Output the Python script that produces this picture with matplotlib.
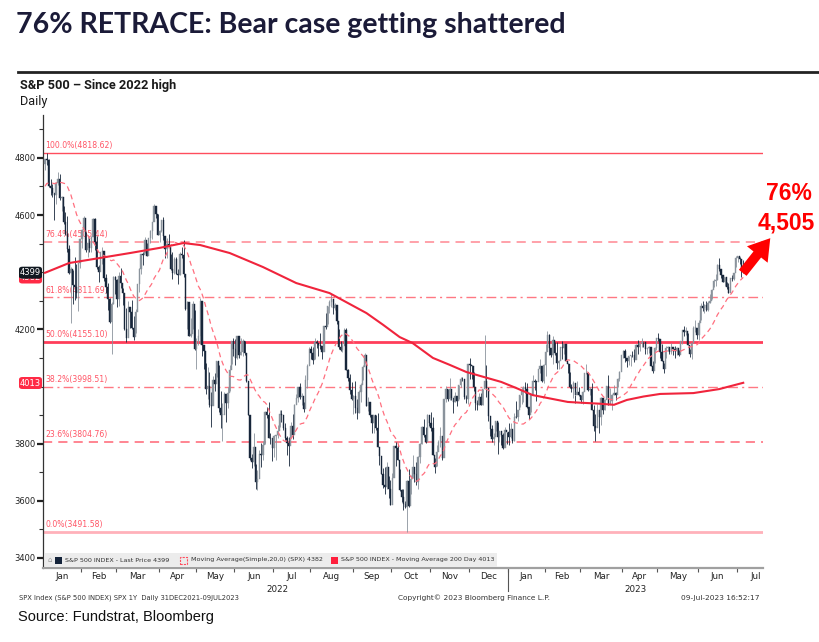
import matplotlib
matplotlib.use('Agg')
import matplotlib.pyplot as plt
import numpy as np
import pandas as pd
from matplotlib.patches import Rectangle, FancyBboxPatch, FancyArrowPatch
import matplotlib.transforms as mtransforms

# ---------------- data ----------------
holidays = ['2022-01-17', '2022-02-21', '2022-04-15', '2022-05-30', '2022-06-20', '2022-07-04',
            '2022-09-05', '2022-11-24', '2022-12-26', '2023-01-02', '2023-01-16', '2023-02-20',
            '2023-04-07', '2023-05-29', '2023-06-19', '2023-07-04']
start_date, end_date = '2022-01-03', '2023-07-07'
first_open = 4778.14

# last 19 closes of Dec 2021 (for the 20-day average)
close_dec2021 = [4591.67, 4686.75, 4701.21, 4667.45, 4712.02, 4668.97, 4634.09, 4709.85, 4668.67,
                 4620.64, 4568.02, 4649.23, 4696.56, 4725.79, 4791.19, 4786.35, 4793.06, 4778.73, 4766.18]

close_2022 = [
    4796.56, 4793.54, 4700.58, 4696.05, 4677.03, 4670.29, 4713.07, 4726.35, 4659.03, 4662.85, 4577.11, 4532.76, 4482.73, 4397.94, 4410.13, 4356.45, 4349.93, 4326.51, 4431.85, 4515.55,
    4546.54, 4589.38, 4477.44, 4500.53, 4483.87, 4521.54, 4587.18, 4504.08, 4418.64, 4401.67, 4471.07, 4475.01, 4380.26, 4348.87, 4304.76, 4225.50, 4288.70, 4384.65, 4373.94,
    4306.26, 4386.54, 4363.49, 4328.87, 4201.09, 4170.70, 4277.88, 4259.52, 4204.31, 4173.11, 4262.45, 4357.86, 4411.67, 4463.12, 4461.18, 4511.61, 4456.24, 4520.16, 4543.06, 4575.52, 4631.60, 4602.45, 4530.41,
    4545.86, 4582.64, 4525.12, 4481.15, 4500.21, 4488.28, 4412.53, 4397.45, 4446.59, 4392.59, 4391.69, 4462.21, 4459.45, 4393.66, 4271.78, 4296.12, 4175.20, 4183.96, 4287.50, 4131.93,
    4155.38, 4175.48, 4300.17, 4146.87, 4123.34, 3991.24, 4001.05, 3935.18, 3930.08, 4023.89, 4008.01, 4088.85, 3923.68, 3900.79, 3901.36, 3973.75, 3941.48, 3978.73, 4057.84, 4158.24, 4132.15,
    4101.23, 4176.82, 4108.54, 4121.43, 4160.68, 4115.77, 4017.82, 3900.86, 3749.63, 3735.48, 3789.99, 3666.77, 3674.84, 3764.79, 3759.89, 3795.73, 3911.74, 3900.11, 3821.55, 3818.83, 3785.38,
    3825.33, 3831.39, 3845.08, 3902.62, 3899.38, 3854.43, 3818.80, 3801.78, 3790.38, 3863.16, 3830.85, 3936.69, 3959.90, 3998.95, 3961.63, 3966.84, 3921.05, 4023.61, 4072.43, 4130.29,
    4118.63, 4091.19, 4155.17, 4151.94, 4145.19, 4140.06, 4122.47, 4210.24, 4207.27, 4280.15, 4297.14, 4305.20, 4274.04, 4283.74, 4228.48, 4137.99, 4128.73, 4140.77, 4199.12, 4057.66, 4030.61, 3986.16, 3955.00,
    3966.85, 3924.26, 3908.19, 3979.87, 4006.18, 4067.36, 4110.41, 3932.69, 3946.01, 3901.35, 3873.33, 3899.89, 3855.93, 3789.93, 3757.99, 3693.23, 3655.04, 3647.29, 3719.04, 3640.47, 3585.62,
    3678.43, 3790.93, 3783.28, 3744.52, 3639.66, 3612.39, 3588.84, 3577.03, 3669.91, 3583.07, 3677.95, 3719.98, 3695.16, 3665.78, 3752.75, 3797.34, 3859.11, 3830.60, 3807.30, 3901.06, 3871.98,
    3856.10, 3759.69, 3719.89, 3770.55, 3806.80, 3828.11, 3748.57, 3956.37, 3992.93, 3957.25, 3991.73, 3958.79, 3946.56, 3965.34, 3949.94, 4003.58, 4027.26, 4026.12, 3963.94, 3957.63, 4080.11,
    4076.57, 4071.70, 3998.84, 3941.26, 3933.92, 3963.51, 3934.38, 3990.56, 4019.65, 3995.32, 3895.75, 3852.36, 3817.66, 3821.62, 3878.44, 3822.39, 3844.82, 3829.25, 3783.22, 3849.28, 3839.50]
high_2022 = [
    4796.64, 4818.62, 4797.70, 4725.01, 4707.95, 4673, 4714, 4749, 4744, 4666, 4632, 4611, 4596, 4494, 4417, 4408, 4453, 4429, 4432, 4516,
    4550, 4595, 4542, 4531, 4521, 4525, 4590, 4588, 4527, 4426, 4472, 4489, 4448, 4395, 4363, 4308, 4295, 4386, 4385,
    4375, 4402, 4416, 4343, 4327, 4276, 4300, 4268, 4303, 4247, 4271, 4358, 4413, 4465, 4471, 4522, 4501, 4521, 4546, 4576, 4637, 4628, 4603,
    4548, 4583, 4593, 4504, 4521, 4534, 4464, 4471, 4454, 4453, 4410, 4471, 4488, 4512, 4386, 4299, 4278, 4240, 4300, 4269,
    4169, 4200, 4308, 4270, 4140, 4081, 4068, 4050, 3981, 4038, 4047, 4090, 4076, 3985, 3943, 3982, 3956, 4000, 4076, 4158, 4169,
    4167, 4177, 4143, 4168, 4165, 4160, 4117, 3975, 3839, 3764, 3837, 3728, 3708, 3779, 3802, 3809, 3914, 3928, 3945, 3837, 3818,
    3830, 3832, 3865, 3918, 3919, 3880, 3873, 3828, 3822, 3876, 3903, 3938, 3975, 4000, 4013, 3976, 3946, 4040, 4079, 4140,
    4141, 4140, 4168, 4161, 4152, 4187, 4128, 4211, 4258, 4280, 4301, 4325, 4302, 4292, 4259, 4202, 4159, 4156, 4203, 4204, 4063, 4044, 4015,
    3970, 4019, 3956, 3987, 4011, 4077, 4119, 4062, 3962, 3944, 3880, 3901, 3900, 3907, 3790, 3720, 3715, 3717, 3737, 3687, 3672,
    3698, 3791, 3807, 3798, 3710, 3643, 3640, 3601, 3672, 3713, 3689, 3762, 3719, 3737, 3757, 3803, 3862, 3887, 3859, 3905, 3893,
    3911, 3894, 3751, 3796, 3814, 3860, 3818, 3958, 4001, 3993, 4029, 3983, 3955, 3980, 3962, 4006, 4034, 4034, 4013, 3969, 4080,
    4101, 4077, 4052, 3999, 3952, 3977, 3977, 3991, 4180, 4075, 3958, 3888, 3864, 3839, 3876, 3876, 3846, 3846, 3839, 3859, 3840]
low_2022 = [
    4758.17, 4774.27, 4699.44, 4671.26, 4662.74, 4582, 4638, 4706, 4651, 4614, 4569, 4530, 4472, 4395, 4223, 4287, 4304, 4309, 4264, 4415,
    4484, 4544, 4471, 4452, 4471, 4471, 4547, 4477, 4411, 4364, 4429, 4429, 4368, 4327, 4267, 4222, 4115, 4287, 4322,
    4279, 4280, 4345, 4284, 4199, 4157, 4238, 4206, 4202, 4162, 4188, 4288, 4331, 4394, 4424, 4466, 4455, 4469, 4501, 4517, 4589, 4589, 4530,
    4507, 4539, 4514, 4450, 4450, 4488, 4408, 4375, 4392, 4392, 4358, 4391, 4448, 4384, 4268, 4201, 4175, 4173, 4200, 4129,
    4062, 4146, 4148, 4106, 4063, 3975, 3958, 3928, 3859, 3952, 3985, 4033, 3912, 3855, 3810, 3920, 3876, 3925, 3985, 4078, 4107,
    4074, 4098, 4101, 4109, 4108, 4110, 4017, 3901, 3744, 3715, 3723, 3640, 3637, 3715, 3717, 3743, 3798, 3890, 3821, 3799, 3738,
    3752, 3743, 3821, 3859, 3877, 3847, 3813, 3759, 3722, 3819, 3817, 3860, 3938, 3947, 3955, 3936, 3912, 3964, 3995, 4080,
    4097, 4079, 4095, 4135, 4108, 4131, 4098, 4164, 4201, 4220, 4256, 4278, 4254, 4267, 4218, 4131, 4124, 4121, 4145, 4057, 4018, 3973, 3954,
    3903, 3907, 3886, 3907, 3945, 4022, 4084, 3933, 3914, 3895, 3838, 3838, 3847, 3789, 3727, 3694, 3645, 3624, 3641, 3610, 3584,
    3604, 3725, 3723, 3744, 3633, 3596, 3568, 3575, 3491.58, 3580, 3623, 3679, 3666, 3656, 3641, 3733, 3799, 3824, 3804, 3809, 3863,
    3843, 3759, 3699, 3722, 3774, 3788, 3744, 3859, 3945, 3949, 3954, 3954, 3906, 3945, 3933, 3956, 3999, 4021, 3957, 3943, 3939,
    4028, 4026, 3984, 3919, 3918, 3934, 3934, 3936, 3994, 3965, 3879, 3828, 3807, 3795, 3846, 3765, 3805, 3795, 3783, 3799, 3800]

close_2023 = [
    3824.14, 3852.97, 3808.10, 3895.08, 3892.09, 3919.25, 3969.61, 3983.17, 3999.09, 3990.97, 3928.86, 3898.85, 3972.61, 4019.81, 4016.95, 4016.22, 4060.43, 4070.56, 4017.77, 4076.60,
    4119.21, 4179.76, 4136.48, 4111.08, 4164.00, 4117.86, 4081.50, 4090.46, 4137.29, 4136.13, 4147.60, 4090.41, 4079.09, 3997.34, 3991.05, 4012.32, 3970.04, 3982.24, 3970.15,
    3951.39, 3981.35, 4045.64, 4048.42, 3986.37, 3992.01, 3918.32, 3861.59, 3855.76, 3919.29, 3891.93, 3960.28, 3916.64, 3951.57, 4002.87, 3936.97, 3948.72, 3970.99, 3977.53, 3971.27, 4027.81, 4050.83, 4109.31,
    4124.51, 4100.60, 4090.38, 4105.02, 4109.11, 4108.94, 4091.95, 4146.22, 4137.64, 4151.32, 4154.87, 4154.52, 4129.79, 4133.52, 4137.04, 4071.63, 4055.99, 4135.35, 4169.48,
    4167.87, 4119.58, 4090.75, 4061.22, 4136.25, 4138.12, 4119.17, 4137.64, 4130.62, 4124.08, 4136.28, 4109.90, 4158.77, 4198.05, 4191.98, 4192.63, 4145.58, 4115.24, 4151.28, 4205.45, 4205.52, 4179.83,
    4221.02, 4282.37, 4273.79, 4283.85, 4267.52, 4293.93, 4298.86, 4338.93, 4369.01, 4372.59, 4425.84, 4409.59, 4388.71, 4365.69, 4381.89, 4348.33, 4328.82, 4378.41, 4376.86, 4396.44, 4450.38,
    4455.59, 4446.82, 4411.59, 4398.95]
high_2023 = [
    3872, 3874, 3840, 3907, 3951, 3919, 3970, 3998, 4003, 4015, 4014, 3927, 3974, 4039, 4028, 4020, 4061, 4095, 4063, 4078,
    4148, 4195, 4183, 4128, 4176, 4156, 4157, 4094, 4139, 4159, 4149, 4136, 4083, 4052, 4010, 4018, 3972, 4018, 3999,
    3972, 3984, 4048, 4079, 4050, 4000, 4011, 3934, 3905, 3938, 3915, 3964, 3958, 3956, 4003, 4039, 3996, 3973, 4004, 3980, 4031, 4053, 4110,
    4128, 4133, 4099, 4108, 4110, 4125, 4132, 4150, 4164, 4153, 4169, 4157, 4148, 4134, 4143, 4119, 4088, 4138, 4170,
    4187, 4164, 4148, 4083, 4142, 4143, 4131, 4154, 4132, 4143, 4139, 4127, 4160, 4199, 4212, 4209, 4187, 4131, 4154, 4212, 4231, 4193,
    4232, 4291, 4299, 4288, 4300, 4298, 4322, 4340, 4375, 4392, 4428, 4448, 4401, 4389, 4382, 4366, 4363, 4379, 4389, 4398, 4456,
    4456, 4452, 4422, 4443]
low_2023 = [
    3794, 3819, 3803, 3809, 3889, 3878, 3928, 3939, 3947, 3978, 3924, 3886, 3910, 3972, 3989, 3950, 4018, 4048, 4017, 4013,
    4037, 4141, 4111, 4103, 4080, 4111, 4061, 4061, 4092, 4095, 4114, 4088, 4048, 3995, 3981, 3961, 3944, 3976, 3968,
    3944, 3940, 4000, 4045, 3984, 3970, 3918, 3846, 3809, 3875, 3839, 3865, 3903, 3917, 3963, 3935, 3943, 3918, 3970, 3952, 3999, 4021, 4056,
    4101, 4087, 4069, 4077, 4072, 4102, 4087, 4100, 4114, 4125, 4139, 4139, 4114, 4113, 4117, 4071, 4049, 4082, 4128,
    4159, 4100, 4088, 4048, 4099, 4123, 4115, 4113, 4110, 4099, 4109, 4108, 4113, 4150, 4176, 4180, 4145, 4103, 4098, 4152, 4192, 4166,
    4164, 4231, 4264, 4257, 4265, 4264, 4291, 4305, 4349, 4352, 4373, 4403, 4380, 4364, 4351, 4341, 4328, 4334, 4370, 4371, 4419,
    4437, 4427, 4384, 4398]

# 200-day moving average as drawn by the terminal
ma200_dates = ['2022-01-03', '2022-01-21', '2022-02-15', '2022-03-10', '2022-04-01', '2022-04-21', '2022-05-04',
               '2022-05-26', '2022-06-23', '2022-07-20', '2022-08-15', '2022-09-13', '2022-09-26', '2022-10-07',
               '2022-10-18', '2022-11-02', '2022-11-15', '2022-11-29', '2022-12-27', '2023-01-09', '2023-01-23',
               '2023-02-17', '2023-03-02', '2023-03-15', '2023-03-27', '2023-04-05', '2023-04-19', '2023-05-02',
               '2023-05-26', '2023-06-16', '2023-07-07']
ma200_vals = [4398, 4432, 4450, 4467, 4485, 4502, 4495, 4467, 4418, 4362, 4327, 4257, 4216, 4173,
              4152, 4100, 4076, 4051, 4016, 3995, 3970,
              3946, 3943, 3940, 3936, 3953, 3965, 3974,
              3977, 3991, 4013]

fib_pcts = [100.0, 76.4, 61.8, 50.0, 38.2, 23.6, 0.0]
fib_vals = [4818.62, 4505.44, 4311.69, 4155.10, 3998.51, 3804.76, 3491.58]

month_names = ['Jan', 'Feb', 'Mar', 'Apr', 'May', 'Jun', 'Jul', 'Aug', 'Sep', 'Oct', 'Nov', 'Dec']
ytick_major = [3400, 3600, 3800, 4200, 4600, 4800]
last_price, ma20_last, ma200_last = 4399, 4382, 4013

# ---------------- derived series ----------------
dates = pd.bdate_range(start_date, end_date, freq='C', holidays=holidays)
close = np.array(close_2022 + close_2023)
high = np.array(high_2022 + high_2023)
low = np.array(low_2022 + low_2023)
opn = np.concatenate([[first_open], close[:-1]])
n = len(close)
idx = np.arange(n)
date_pos = {d.strftime('%Y-%m-%d'): i for i, d in enumerate(dates)}
ma20 = pd.Series(close_dec2021 + list(close)).rolling(20).mean().values[-n:]
ma200_x = [date_pos[d] for d in ma200_dates]

# ---------------- figure ----------------
W, H = 820, 642
fig = plt.figure(figsize=(W / 100, H / 100), dpi=100)
fig.patch.set_facecolor('white')

def fx(x):
    return x / W

def fy(y):
    return 1 - y / H

ax = fig.add_axes([fx(43), fy(568), (763 - 43) / W, (568 - 115) / H])
ax.set_xlim(-1.1, 388.7)
ax.set_ylim(3365, 4950)

# fib lines
fib_styles = {
    100.0: dict(color='#ff4d5e', lw=1.0, ls='-'),
    76.4: dict(color='#ff8792', lw=1.1, ls=(0, (6, 4))),
    61.8: dict(color='#ff7883', lw=1.0, ls=(0, (7, 3, 1.5, 3))),
    50.0: dict(color='#ff3d5a', lw=2.0, ls='-'),
    38.2: dict(color='#ff7883', lw=1.0, ls=(0, (7, 3, 1.5, 3))),
    23.6: dict(color='#ff6474', lw=1.1, ls=(0, (6, 4))),
    0.0: dict(color='#ffb1ba', lw=2.0, ls='-'),
}
for p, v in zip(fib_pcts, fib_vals):
    ax.axhline(v, zorder=1, **fib_styles[p])
    ax.text(0.3, v + 10, f'{p:.1f}%({v:.2f})', color='#ff5566', fontsize=5.6,
            ha='left', va='bottom', zorder=2)

# candlesticks
up = close >= opn
col = np.where(up, '#8a939c', '#17263a')
ax.vlines(idx, low, high, colors=col, lw=0.6, zorder=3)
body_lo = np.minimum(opn, close)
body_h = np.maximum(np.abs(close - opn), 1.5)
ax.bar(idx, body_h, bottom=body_lo, width=0.7, color=col, edgecolor=col, lw=0.3, zorder=4)

# moving averages
ax.plot(idx, ma20, color='#ff6f7f', lw=0.9, ls=(0, (4, 3)), zorder=5)
ax.plot(ma200_x, ma200_vals, color='#f0243c', lw=1.5, zorder=6, solid_joinstyle='round')

# axes styling
for s in ['top', 'right']:
    ax.spines[s].set_visible(False)
ax.spines['left'].set_color('#333333')
ax.spines['left'].set_linewidth(0.9)
ax.spines['bottom'].set_color('#a0a0a0')
ax.spines['bottom'].set_linewidth(1.6)

ax.set_yticks(ytick_major)
ax.set_yticklabels([str(t) for t in ytick_major])
ax.set_yticks(np.arange(3500, 5000, 100), minor=True)
ax.tick_params(axis='y', which='major', direction='out', length=4, width=1.6, labelsize=6,
               colors='#222222', pad=1.5)
ax.tick_params(axis='y', which='minor', direction='out', length=3, width=0.8, colors='#333333')

# month boundaries and centers
mstarts, mcenters, mlabels = [], [], []
per = pd.Series(idx, index=dates).groupby([dates.year, dates.month])
for (yr, mo), g in per:
    s, e = g.values[0], g.values[-1]
    if (yr, mo) == (dates[-1].year, dates[-1].month):
        e = s + 19
    mstarts.append(s - 0.5)
    mcenters.append((s + e) / 2)
    mlabels.append(month_names[mo - 1])
ax.set_xticks(mstarts[1:])
ax.set_xticklabels([''] * len(mstarts[1:]))
ax.set_xticks(mcenters, minor=True)
ax.set_xticklabels(mlabels, minor=True)
ax.tick_params(axis='x', which='major', direction='out', length=3, width=0.8, colors='#555555')
ax.tick_params(axis='x', which='minor', length=0, labelsize=6.3, pad=3, labelcolor='#222222')

trans = mtransforms.blended_transform_factory(ax.transData, ax.transAxes)
year_split = date_pos['2023-01-03'] - 0.5
ax.text(year_split / 2 + 0.5, -0.037, '2022', transform=trans, ha='center', va='top', fontsize=6.3, color='#222222')
ax.text((year_split + 388.7) / 2, -0.037, '2023', transform=trans, ha='center', va='top', fontsize=6.3, color='#222222')
ax.plot([year_split, year_split], [0, -0.05], transform=trans, color='#555555', lw=0.8, clip_on=False)

# ---------------- annotations outside axes ----------------
fig.text(fx(16), fy(25), '76% RETRACE: Bear case getting shattered', fontsize=20.5, fontweight='bold',
         family='Lato', color='#1b1b38', ha='left', va='center')
fig.add_artist(plt.Line2D([fx(18), fx(820)], [fy(72), fy(72)], color='#222222', lw=2.0))
fig.text(fx(20), fy(85), 'S&P 500 \u2013 Since 2022 high', fontsize=9.2, fontweight='bold',
         family='Roboto', color='#1a1a1a', ha='left', va='center')
fig.text(fx(20), fy(101), 'Daily', fontsize=9.2, family='Roboto', color='#1a1a1a', ha='left', va='center')

# price badges (20-day average badge sits mostly hidden behind the last-price badge)
def badge(y, txt, fc, z):
    fig.patches.append(FancyBboxPatch((fx(19), fy(y + 6)), (42 - 19) / W, 12 / H,
                                      boxstyle='round,pad=0.0,rounding_size=0.004',
                                      transform=fig.transFigure, fc=fc, ec='none', zorder=z))
    fig.text(fx(30.5), fy(y), txt, color='white', fontsize=6, ha='center', va='center', zorder=z + 0.5)

badge(277.5, str(ma20_last), '#ff2a45', 5)
badge(272.7, str(last_price), '#101820', 7)
badge(383.0, str(ma200_last), '#ff2a45', 5)

# legend strip
fig.patches.append(Rectangle((fx(45), fy(567)), (497 - 45) / W, 14 / H, transform=fig.transFigure,
                             fc='#ececec', ec='none', zorder=2))
fig.text(fx(48), fy(560), '\u2302', fontsize=5, color='#999999', ha='left', va='center', zorder=3)
fig.patches.append(Rectangle((fx(55), fy(564)), 7 / W, 7 / H, transform=fig.transFigure,
                             fc='#14233a', ec='none', zorder=3))
fig.text(fx(65), fy(560), f'S&P 500 INDEX - Last Price {last_price}', fontsize=4.6, color='#333333',
         ha='left', va='center', zorder=3)
fig.patches.append(Rectangle((fx(180), fy(564)), 7 / W, 7 / H, transform=fig.transFigure,
                             fc='none', ec='#ff4d5e', lw=0.8, ls=(0, (2, 1)), zorder=3))
fig.text(fx(191), fy(560), f'Moving Average(Simple,20,0) (SPX) {ma20_last}', fontsize=4.6,
         color='#333333', ha='left', va='center', zorder=3)
fig.patches.append(Rectangle((fx(331), fy(564)), 7 / W, 7 / H, transform=fig.transFigure,
                             fc='#ff1f3d', ec='none', zorder=3))
fig.text(fx(341), fy(560), f'S&P 500 INDEX - Moving Average 200 Day {ma200_last}', fontsize=4.6,
         color='#333333', ha='left', va='center', zorder=3)

# footer
fig.text(fx(19), fy(598), 'SPX Index (S&P 500 INDEX) SPX 1Y  Daily 31DEC2021-09JUL2023', fontsize=4.9,
         color='#333333', ha='left', va='center')
fig.text(fx(474), fy(598), 'Copyright\u00a9 2023 Bloomberg Finance L.P.', fontsize=5.3,
         color='#333333', ha='center', va='center')
fig.text(fx(760), fy(598), '09-Jul-2023 16:52:17', fontsize=5.3, color='#333333', ha='right', va='center')
fig.text(fx(18), fy(617), 'Source: Fundstrat, Bloomberg', fontsize=10.5, family='Liberation Sans',
         color='#111111', ha='left', va='center')

# target annotation
fig.text(fx(789), fy(193), '76%', fontsize=16.5, fontweight='bold', family='Liberation Sans',
         color='#ff0000', ha='center', va='center')
fig.text(fx(786), fy(223), '4,505', fontsize=16.5, fontweight='bold', family='Liberation Sans',
         color='#ff0000', ha='center', va='center')
fig.add_artist(FancyArrowPatch((fx(741), fy(275)), (fx(772), fy(236)), transform=fig.transFigure,
                               arrowstyle='simple,head_width=1.9,head_length=1.5,tail_width=0.7',
                               mutation_scale=10, color='#ff0000', lw=0))

fig.savefig('out.png', dpi=100)
